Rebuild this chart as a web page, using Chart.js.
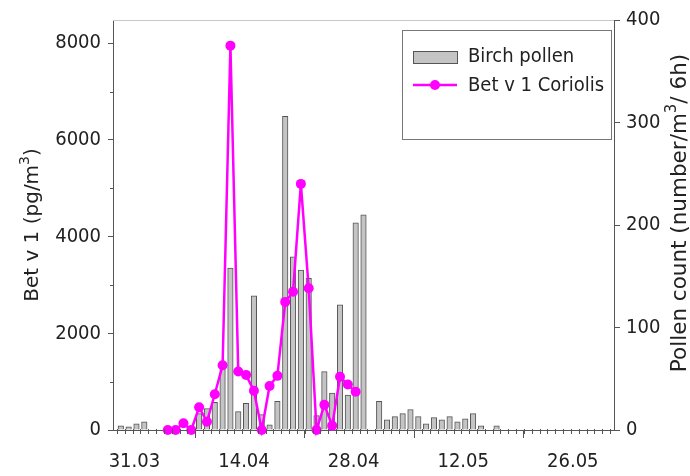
<!DOCTYPE html>
<html>
<head>
<meta charset="utf-8">
<script src="https://cdn.jsdelivr.net/npm/chart.js@4/dist/chart.umd.min.js"></script>
<style>
  html, body { margin: 0; background: #fff; }
  #wrap { width: 690px; height: 476px; }
</style>
</head>
<body>
<div id="wrap"><canvas id="pollenChart"></canvas></div>
<script>
// one entry per day, 28.03 - 30.05
const dates = [
  "28.03", "29.03", "30.03", "31.03",
  "01.04", "02.04", "03.04", "04.04", "05.04", "06.04", "07.04", "08.04", "09.04", "10.04",
  "11.04", "12.04", "13.04", "14.04", "15.04", "16.04", "17.04", "18.04", "19.04", "20.04",
  "21.04", "22.04", "23.04", "24.04", "25.04", "26.04", "27.04", "28.04", "29.04", "30.04",
  "01.05", "02.05", "03.05", "04.05", "05.05", "06.05", "07.05", "08.05", "09.05", "10.05",
  "11.05", "12.05", "13.05", "14.05", "15.05", "16.05", "17.05", "18.05", "19.05", "20.05",
  "21.05", "22.05", "23.05", "24.05", "25.05", "26.05", "27.05", "28.05", "29.05", "30.05"
];
// pollen count (number/m3/6h), right axis
const birchPollen = [
  4, 3, 6, 8, 0, 0, 0, 0, 0, 0,
  16, 21, 27, 60, 158, 18, 26, 131, 15, 5,
  28, 306, 169, 156, 148, 14, 57, 36, 122, 34,
  202, 210, 0, 28, 10, 13, 16, 20, 13, 6,
  12, 10, 13, 8, 11, 16, 4, 0, 4, 0,
  0, 0, 0, 0, 0, 0, 0, 0, 0, 0,
  0, 0, 0, 0
];
// Bet v 1 (pg/m3), left axis
const betV1 = [
  null, null, null, null, null, null, 0, 0, 140, 0,
  470, 170, 740, 1340, 7950, 1210, 1140, 810, 0, 910,
  1120, 2650, 2860, 5090, 2930, 0, 520, 90, 1100, 940,
  790, null, null, null, null, null, null, null, null, null,
  null, null, null, null, null, null, null, null, null, null,
  null, null, null, null, null, null, null, null, null, null,
  null, null, null, null
];
const dateTicks = ["31.03", "14.04", "28.04", "12.05", "26.05"];
const betTicks = [0, 2000, 4000, 6000, 8000];
const pollenTicks = [0, 100, 200, 300, 400];

const axisColor = "#555";
const textColor = "#222";
const barFill = "#c4c4c4";
const barEdge = "#555";
const lineColor = "#f0f";
const tickFont = { family: "DejaVu Sans Condensed", size: 20 };

function rotatedTitle(ctx, cx, cy, before, sup, after, size) {
  const big = size + "px 'DejaVu Sans'";
  const small = Math.round(size * 0.72) + "px 'DejaVu Sans'";
  ctx.save();
  ctx.translate(cx, cy);
  ctx.rotate(-Math.PI / 2);
  ctx.font = big;
  const w1 = ctx.measureText(before).width;
  const w3 = ctx.measureText(after).width;
  ctx.font = small;
  const w2 = ctx.measureText(sup).width;
  let x = -(w1 + w2 + w3) / 2;
  ctx.textBaseline = "middle";
  ctx.fillStyle = textColor;
  ctx.font = big;
  ctx.fillText(before, x, 0);
  x += w1;
  ctx.font = small;
  ctx.fillText(sup, x, -size * 0.38);
  x += w2;
  ctx.font = big;
  ctx.fillText(after, x, 0);
  ctx.restore();
}

// small ticks, top frame, axis titles and the boxed legend
const extras = {
  id: "extras",
  afterDraw(chart) {
    const { ctx, chartArea, scales } = chart;
    const x = scales.x, yBet = scales.yBet;
    ctx.save();
    ctx.strokeStyle = axisColor;
    ctx.lineWidth = 1;
    ctx.beginPath();
    dates.forEach((d, i) => {
      const px = Math.round(x.getPixelForValue(i)) + 0.5;
      ctx.moveTo(px, chartArea.bottom - 1);
      ctx.lineTo(px, chartArea.bottom + 4);
    });
    for (let v = 1000; v < 8000; v += 2000) {
      const py = Math.round(yBet.getPixelForValue(v)) + 0.5;
      ctx.moveTo(chartArea.left - 3, py);
      ctx.lineTo(chartArea.left, py);
    }
    ctx.stroke();

    ctx.strokeStyle = "#c8c8c8";
    ctx.beginPath();
    ctx.moveTo(chartArea.left, chartArea.top + 0.5);
    ctx.lineTo(chartArea.right, chartArea.top + 0.5);
    ctx.stroke();

    rotatedTitle(ctx, 33, 225, "Bet v 1 (pg/m", "3", ")", 20);
    rotatedTitle(ctx, 680, 213, "Pollen count (number/m", "3", "/ 6h)", 21.5);

    // legend
    const [bars, line] = chart.data.datasets;
    ctx.fillStyle = "#fff";
    ctx.fillRect(402, 30, 209, 109);
    ctx.strokeStyle = "#777";
    ctx.strokeRect(402.5, 30.5, 209, 109);
    ctx.fillStyle = bars.backgroundColor;
    ctx.fillRect(413, 51, 44, 12);
    ctx.strokeStyle = bars.borderColor;
    ctx.strokeRect(413.5, 51.5, 44, 12);
    ctx.strokeStyle = line.borderColor;
    ctx.lineWidth = 2.5;
    ctx.beginPath();
    ctx.moveTo(413, 85);
    ctx.lineTo(457, 85);
    ctx.stroke();
    ctx.fillStyle = line.backgroundColor;
    ctx.beginPath();
    ctx.arc(435, 85, 5, 0, Math.PI * 2);
    ctx.fill();
    ctx.fillStyle = textColor;
    ctx.font = "20px 'DejaVu Sans Condensed'";
    ctx.textBaseline = "middle";
    ctx.fillText(bars.label, 468, 57);
    ctx.fillText(line.label, 468, 86);
    ctx.restore();
  }
};

new Chart(document.getElementById("pollenChart"), {
  type: "bar",
  data: {
    datasets: [
      {
        type: "bar",
        label: "Birch pollen",
        data: dates.map((d, i) => ({ x: i + 0.5, y: birchPollen[i] })),
        yAxisID: "yPollen",
        backgroundColor: barFill,
        borderColor: barEdge,
        borderWidth: 1,
        barThickness: 5.5,
        order: 2
      },
      {
        type: "line",
        label: "Bet v 1 Coriolis",
        data: dates.map((d, i) => ({ x: i + 0.5, y: betV1[i] })),
        yAxisID: "yBet",
        borderColor: lineColor,
        backgroundColor: lineColor,
        borderWidth: 2.5,
        pointRadius: 5,
        pointBorderWidth: 0,
        tension: 0,
        clip: false,
        order: 1
      }
    ]
  },
  options: {
    responsive: true,
    maintainAspectRatio: false,
    animation: false,
    layout: { padding: { top: 20, left: 0, right: 0, bottom: 0 } },
    plugins: { legend: { display: false }, tooltip: { enabled: false } },
    scales: {
      x: {
        type: "linear",
        min: -0.5,
        max: 63.5,
        offset: false,
        afterBuildTicks: s => { s.ticks = dateTicks.map(d => ({ value: dates.indexOf(d) })); },
        afterFit: s => { s.height = 46; },
        ticks: {
          callback: v => dates[v],
          font: tickFont,
          color: textColor,
          padding: 12,
          labelOffset: -6,
          maxRotation: 0,
          autoSkip: false
        },
        grid: { drawOnChartArea: false, tickLength: 8, tickColor: axisColor },
        border: { color: axisColor }
      },
      yBet: {
        position: "left",
        min: 0,
        max: 8480,
        afterBuildTicks: s => { s.ticks = betTicks.map(v => ({ value: v })); },
        afterFit: s => { s.width = 113; },
        ticks: { font: tickFont, color: textColor, padding: 7, callback: v => String(v) },
        grid: { drawOnChartArea: false, tickLength: 5, tickColor: axisColor },
        border: { color: axisColor }
      },
      yPollen: {
        position: "right",
        min: 0,
        max: 400,
        afterBuildTicks: s => { s.ticks = pollenTicks.map(v => ({ value: v })); },
        afterFit: s => { s.width = 76; },
        ticks: { font: tickFont, color: textColor, padding: 6, callback: v => String(v) },
        grid: { drawOnChartArea: false, tickLength: 6, tickColor: axisColor },
        border: { color: axisColor }
      }
    }
  },
  plugins: [extras]
});
</script>
</body>
</html>
